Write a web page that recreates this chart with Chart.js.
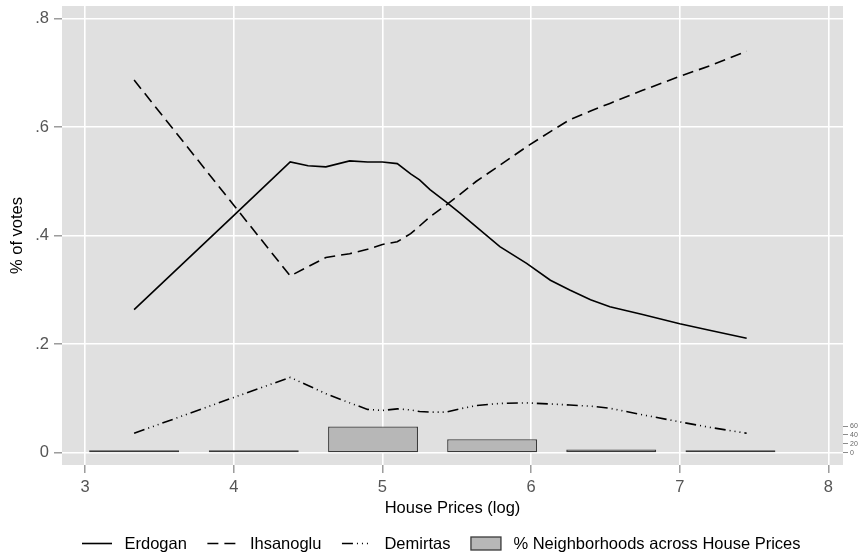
<!DOCTYPE html>
<html>
<head>
<meta charset="utf-8">
<script src="https://cdn.jsdelivr.net/npm/chart.js@4/dist/chart.umd.min.js"></script>
<style>
  html, body { margin: 0; padding: 0; background: #fff; }
  #wrap { width: 868px; height: 559px; }
</style>
</head>
<body>
<div id="wrap"><canvas id="c" width="868" height="559"></canvas></div>
<script>
// Smoothed vote shares by (log) house price
const housePrices = [3.33, 4.01, 4.38, 4.50, 4.62, 4.78, 4.90, 5.00, 5.10, 5.19, 5.25, 5.32, 5.43,
                     5.52, 5.63, 5.79, 5.97, 6.13, 6.26, 6.40, 6.53, 6.75, 7.00, 7.20, 7.45];
const erdogan   = [0.264, 0.440, 0.536, 0.529, 0.527, 0.538, 0.536, 0.536, 0.533, 0.514, 0.503, 0.485, 0.462,
                   0.442, 0.417, 0.380, 0.349, 0.318, 0.300, 0.282, 0.269, 0.255, 0.238, 0.226, 0.211];
const ihsanoglu = [0.687, 0.453, 0.326, 0.343, 0.360, 0.367, 0.375, 0.384, 0.389, 0.404, 0.418, 0.435, 0.457,
                   0.476, 0.500, 0.530, 0.564, 0.592, 0.614, 0.630, 0.644, 0.668, 0.694, 0.713, 0.740];
const demirtas  = [0.036, 0.103, 0.139, 0.124, 0.109, 0.092, 0.080, 0.078, 0.081, 0.079, 0.076, 0.075, 0.075,
                   0.081, 0.087, 0.091, 0.092, 0.090, 0.088, 0.086, 0.082, 0.070, 0.057, 0.047, 0.036];

// Share of neighbourhoods per house-price bin (percent)
const binCenters = [3.33, 4.135, 4.937, 5.738, 6.539, 7.341];
const binShares  = [1.5, 0.8, 58.8, 30.2, 7.5, 1.2];

// Axis ticks
const xTicks = [3, 4, 5, 6, 7, 8];
const yTicks = [0, 0.2, 0.4, 0.6, 0.8];
const yTickLabels = ['0', '.2', '.4', '.6', '.8'];
const shareTicks = [0, 20, 40, 60];

const seriesNames = ['Erdogan', 'Ihsanoglu', 'Demirtas', '% Neighborhoods across House Prices'];
const xTitle = 'House Prices (log)';
const yTitle = '% of votes';

const FONT = "'Liberation Sans', Arial, Helvetica, sans-serif";
Chart.defaults.font.family = FONT;
Chart.defaults.font.size = 16.5;

const pts = (ys) => housePrices.map((x, i) => ({ x: x, y: ys[i] }));

const lineStyle = {
  type: 'line', borderColor: '#000', borderWidth: 1.6, pointRadius: 0,
  tension: 0, fill: false, yAxisID: 'y', order: 1, borderCapStyle: 'butt'
};

const datasets = [
  Object.assign({}, lineStyle, { label: seriesNames[0], data: pts(erdogan), borderDash: [] }),
  Object.assign({}, lineStyle, { label: seriesNames[1], data: pts(ihsanoglu), borderDash: [11, 6] }),
  Object.assign({}, lineStyle, { label: seriesNames[2], data: pts(demirtas), borderDash: [11, 4, 1, 4, 1, 4, 1, 4] }),
  {
    type: 'bar', label: seriesNames[3], yAxisID: 'y2', order: 10,
    data: binCenters.map((x, i) => ({ x: x, y: binShares[i] })),
    backgroundColor: '#b7b7b7', borderColor: '#3a3a3a', borderWidth: 1.3,
    borderSkipped: false, barPercentage: 0.755, categoryPercentage: 1.0,
    minBarLength: 2.5
  }
];

// gray plot region
const plotBg = {
  id: 'plotBg',
  beforeDraw(chart) {
    const a = chart.chartArea, ctx = chart.ctx;
    ctx.save();
    ctx.fillStyle = '#e0e0e0';
    ctx.fillRect(a.left, a.top, a.right - a.left, a.bottom - a.top);
    ctx.restore();
  }
};

// legend row under the x-axis title
const bottomLegend = {
  id: 'bottomLegend',
  afterDraw(chart) {
    const ctx = chart.ctx;
    const y = 543.5;
    let x = 82;
    ctx.save();
    ctx.font = '16.5px ' + FONT;
    ctx.textBaseline = 'middle';
    ctx.textAlign = 'left';
    chart.data.datasets.forEach((ds) => {
      if (ds.type === 'bar') {
        ctx.fillStyle = ds.backgroundColor;
        ctx.fillRect(x, y - 6.5, 30, 13);
        ctx.strokeStyle = ds.borderColor;
        ctx.lineWidth = 1.3;
        ctx.strokeRect(x, y - 6.5, 30, 13);
      } else {
        ctx.strokeStyle = ds.borderColor;
        ctx.lineWidth = ds.borderWidth;
        ctx.setLineDash(ds.borderDash || []);
        ctx.beginPath();
        ctx.moveTo(x, y);
        ctx.lineTo(x + 30, y);
        ctx.stroke();
        ctx.setLineDash([]);
      }
      x += 30 + 12.5;
      ctx.fillStyle = '#000';
      ctx.fillText(ds.label, x, y + 1);
      x += ctx.measureText(ds.label).width + 20.5;
    });
    ctx.restore();
  }
};

new Chart(document.getElementById('c'), {
  type: 'line',
  data: { datasets: datasets },
  plugins: [plotBg, bottomLegend],
  options: {
    responsive: false,
    animation: false,
    devicePixelRatio: 1,
    layout: { padding: { top: 6, left: 0, right: 0, bottom: 41 } },
    plugins: { legend: { display: false }, tooltip: { enabled: false } },
    scales: {
      x: {
        type: 'linear', min: 2.845, max: 8.098, offset: false,
        afterBuildTicks: (s) => { s.ticks = xTicks.map(v => ({ value: v })); },
        afterFit: (s) => { s.height = 53; s.paddingLeft = 0; s.paddingRight = 0; },
        border: { display: false },
        grid: { offset: false, color: '#ffffff', lineWidth: 1.6, tickColor: '#8c8c8c', tickLength: 8, tickWidth: 1.3 },
        ticks: { color: '#555', padding: 5, autoSkip: false, maxRotation: 0, font: { size: 16.5 } },
        title: { display: true, text: xTitle, color: '#000', font: { size: 16.5 }, padding: { top: 0, bottom: 0 } }
      },
      y: {
        type: 'linear', position: 'left', min: -0.0225, max: 0.8235,
        afterBuildTicks: (s) => { s.ticks = yTicks.map(v => ({ value: v })); },
        afterFit: (s) => { s.width = 62; s.paddingTop = 0; s.paddingBottom = 0; },
        border: { display: false },
        grid: { color: '#ffffff', lineWidth: 1.6, tickColor: '#8c8c8c', tickLength: 8, tickWidth: 1.3 },
        ticks: {
          color: '#555', padding: 5, font: { size: 16.5 },
          callback: (v, i) => yTickLabels[i]
        },
        title: { display: true, text: yTitle, color: '#000', font: { size: 16.5 }, padding: { top: 8, bottom: 0 } }
      },
      y2: {
        type: 'linear', position: 'right', min: -27.6, max: 1004,
        afterBuildTicks: (s) => { s.ticks = shareTicks.map(v => ({ value: v })); },
        afterFit: (s) => { s.width = 25; s.paddingTop = 0; s.paddingBottom = 0; },
        border: { display: false },
        grid: { drawOnChartArea: false, tickColor: '#8c8c8c', tickLength: 5, tickWidth: 1 },
        ticks: { color: '#666', padding: 2, font: { size: 7 } }
      }
    }
  }
});
</script>
</body>
</html>
